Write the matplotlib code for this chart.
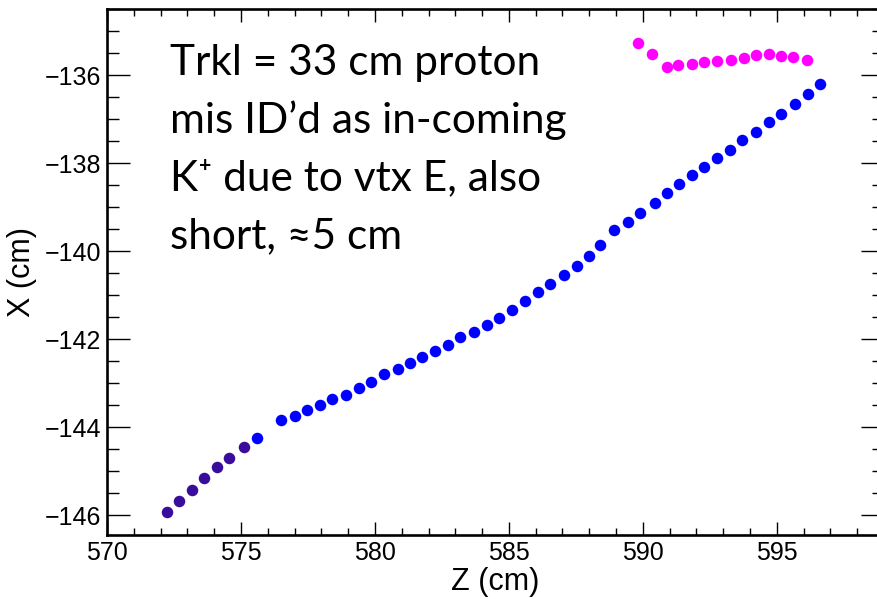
import matplotlib
matplotlib.use("Agg")
import matplotlib.pyplot as plt
from matplotlib.ticker import MultipleLocator

# Track 1, start segment (violet)
z_start = [572.23, 572.70, 573.17, 573.63, 574.12, 574.56, 575.10]
x_start = [-145.93, -145.67, -145.42, -145.16, -144.91, -144.69, -144.46]

# Track 1, main segment (blue)
z_main = [575.60, 576.50, 577.00, 577.47, 577.95, 578.41, 578.93, 579.39, 579.85,
          580.34, 580.86, 581.32, 581.76, 582.26, 582.72, 583.17, 583.71, 584.17,
          584.63, 585.10, 585.60, 586.09, 586.54, 587.06, 587.54, 587.99, 588.40,
          588.92, 589.45, 589.91, 590.45, 590.91, 591.35, 591.84, 592.30, 592.76,
          593.25, 593.71, 594.22, 594.70, 595.15, 595.68, 596.18, 596.60]
x_main = [-144.24, -143.83, -143.74, -143.61, -143.49, -143.36, -143.27, -143.11, -142.98,
          -142.80, -142.69, -142.54, -142.40, -142.28, -142.13, -141.95, -141.84, -141.69,
          -141.52, -141.33, -141.14, -140.93, -140.74, -140.55, -140.33, -140.11, -139.86,
          -139.52, -139.34, -139.13, -138.91, -138.69, -138.48, -138.28, -138.08, -137.89,
          -137.70, -137.48, -137.30, -137.07, -136.89, -136.66, -136.44, -136.21]

# Track 2 (magenta)
z_short = [589.82, 590.34, 590.90, 591.32, 591.84, 592.30, 592.76, 593.29, 593.76,
           594.23, 594.69, 595.15, 595.62, 596.13]
x_short = [-135.28, -135.52, -135.81, -135.78, -135.74, -135.71, -135.69, -135.66, -135.62,
           -135.55, -135.52, -135.56, -135.60, -135.65]

note_lines = ["Trkl = 33 cm proton",
              "mis ID\u2019d as in-coming",
              "K\u207a due to vtx E, also",
              "short, \u22485 cm"]

W, H = 877, 599
fig = plt.figure(figsize=(W / 100, H / 100), dpi=100)
ax = fig.add_axes([107 / W, 1 - 535 / H, (884 - 107) / W, (535 - 9) / H])

mk = dict(marker="o", linestyle="none", markersize=8.3, markeredgewidth=0)
ax.plot(z_main, x_main, color="#0000ff", **mk)
ax.plot(z_start, x_start, color="#3a0c9c", **mk)
ax.plot(z_short, x_short, color="#ff00ff", **mk)

ax.set_xlim(570, 599)
ax.set_ylim(-146.45, -134.5)

ax.xaxis.set_major_locator(MultipleLocator(5))
ax.xaxis.set_minor_locator(MultipleLocator(1))
ax.yaxis.set_major_locator(MultipleLocator(2))
ax.yaxis.set_minor_locator(MultipleLocator(0.5))

tick_font = "Liberation Sans"
ax.tick_params(axis="both", which="both", direction="in", top=True, right=True,
               colors="black", width=1.0)
ax.tick_params(axis="x", which="major", length=9.5, labelsize=18, pad=4)
ax.tick_params(axis="x", which="minor", length=5)
ax.tick_params(axis="y", which="major", length=16.5, labelsize=18, pad=4)
ax.tick_params(axis="y", which="minor", length=8.5)
for lab in ax.get_xticklabels() + ax.get_yticklabels():
    lab.set_fontfamily(tick_font)

for sp in ax.spines.values():
    sp.set_linewidth(1.9)

ax.set_xlabel("Z (cm)", fontsize=22, family=tick_font, labelpad=2)
ax.set_ylabel("X (cm)", fontsize=22, family=tick_font, labelpad=6)

baselines = [75, 133, 190, 248]
for line, yb in zip(note_lines, baselines):
    fig.text(170 / W, 1 - yb / H, line, fontsize=30.5, family=["Lato", "DejaVu Sans"],
             va="baseline", ha="left", color="black")

fig.savefig("out.png", dpi=100)
